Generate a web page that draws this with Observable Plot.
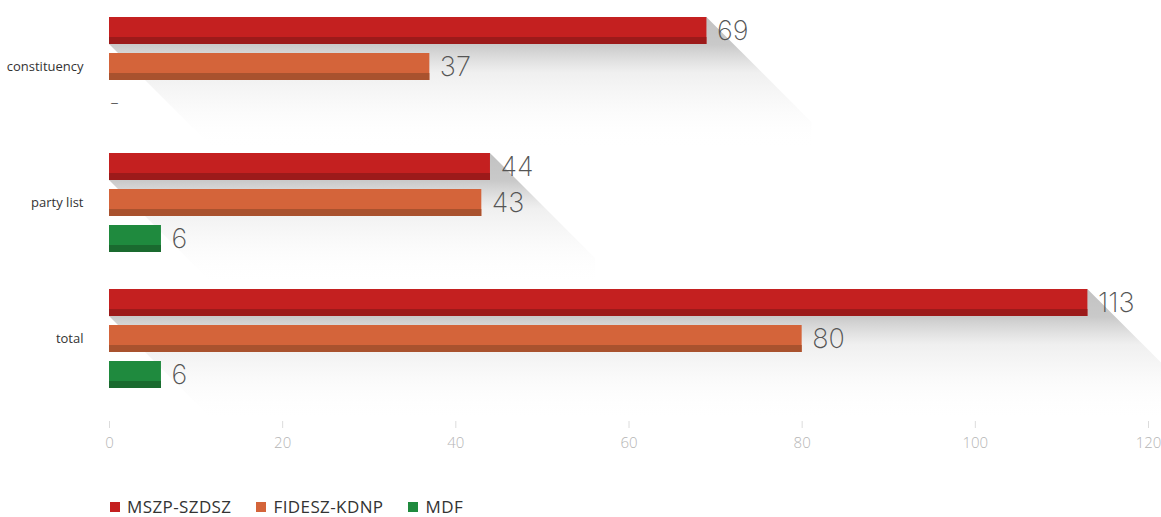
<!DOCTYPE html>
<html>
<head>
<meta charset="utf-8">
<script src="https://cdn.jsdelivr.net/npm/d3@7"></script>
<script src="https://cdn.jsdelivr.net/npm/@observablehq/plot@0.6"></script>
<style>
  html, body { margin: 0; padding: 0; background: #fff; }
  #chart { position: relative; width: 1161px; }
  .legend { display: flex; align-items: center; margin-left: 110px; margin-top: 28px; height: 18px; line-height: 18px;
    font-family: "Open Sans", "DejaVu Sans", sans-serif; font-size: 17px; letter-spacing: 0.4px; color: #333; }
  .legend .item { display: flex; align-items: center; margin-right: 25px; }
  .legend .sw { width: 10px; height: 10px; margin-right: 7px; }
</style>
</head>
<body>
<div id="chart"></div>
<script>
const groups = ["constituency", "party list", "total"];
const parties = ["MSZP-SZDSZ", "FIDESZ-KDNP", "MDF"];
const mszp = [69, 44, 113];
const fidesz = [37, 43, 80];
const mdf = [null, 6, 6];
const colors = ["#c42020", "#d4643a", "#1f8a3e"];
const darkColors = ["#9c1a1a", "#a9522e", "#1a6a2f"];
const xTicks = [0, 20, 40, 60, 80, 100, 120];

const series = [mszp, fidesz, mdf];
const data = groups.flatMap((g, i) => parties.map((p, j) => ({group: g, party: p, value: series[j][i]})));

const chart = Plot.plot({
  width: 1161,
  height: 470,
  marginTop: 16,
  marginLeft: 109,
  marginRight: 13,
  marginBottom: 47,
  x: {domain: [0, 120], label: null},
  y: {domain: parties, paddingInner: 0.26, paddingOuter: 0.452, align: 0, axis: null},
  fy: {domain: groups, paddingInner: 0.029, paddingOuter: 0, axis: null},
  color: {domain: parties, range: colors},
  marks: [
    Plot.axisX({ticks: xTicks, tickSize: 7, text: null, stroke: "#dcdcdc", line: true}),
    Plot.axisX({ticks: xTicks, tickSize: 0, tickPadding: 16, fill: "#b5b5b5", fontSize: 15,
      fontFamily: "Open Sans, sans-serif", fontWeight: 300, label: null}),
    Plot.barX(data.filter(d => d.value != null), {x: "value", y: "party", fy: "group", fill: "party"}),
    ...parties.map((p, j) => Plot.barX(data.filter(d => d.party === p && d.value != null),
      {x: "value", y: "party", fy: "group", fill: darkColors[j], insetTop: 20})),
    Plot.text(data.filter(d => d.value != null), {x: "value", y: "party", fy: "group", text: d => String(d.value),
      textAnchor: "start", dx: 10, fontSize: 27, fontWeight: 200, fontFamily: "Inter, Lato, sans-serif", fill: "#555"}),
    Plot.text(data.filter(d => d.value == null), {x: () => 0, y: "party", fy: "group", text: () => "–",
      textAnchor: "start", dx: 1, fontSize: 16, fontWeight: 300, fill: "#555"}),
    Plot.text(groups, {fy: d => d, y: () => parties[1], frameAnchor: "left", text: d => d, textAnchor: "end",
      dx: -26, fontSize: 13, fontFamily: "Open Sans, sans-serif", fill: "#333"})
  ]
});

// soft diagonal shadow cast by the top (longest) bar of each group, derived from the rendered bars
const ns = "http://www.w3.org/2000/svg";
const defs = document.createElementNS(ns, "defs");
defs.innerHTML = `<linearGradient id="shadowGrad" x1="0" y1="0" x2="0" y2="1">
  <stop offset="0" stop-color="#a8a8a8" stop-opacity="0.7"/>
  <stop offset="0.21" stop-color="#a8a8a8" stop-opacity="0.62"/>
  <stop offset="0.42" stop-color="#b8b8b8" stop-opacity="0.22"/>
  <stop offset="0.7" stop-color="#c8c8c8" stop-opacity="0.08"/>
  <stop offset="1" stop-color="#ffffff" stop-opacity="0"/>
</linearGradient>`;
chart.insertBefore(defs, chart.firstChild);
const depth = 105;
const bars = Array.from(chart.querySelectorAll("rect")).filter(r => (r.getAttribute("fill") || "").toLowerCase() === colors[0]);
bars.forEach(r => {
  const x0 = +r.getAttribute("x"), y0 = +r.getAttribute("y");
  const x1 = x0 + +r.getAttribute("width"), y1 = y0 + +r.getAttribute("height");
  const poly = document.createElementNS(ns, "polygon");
  poly.setAttribute("points", [[x0, y0], [x1, y0], [x1 + depth, y0 + depth], [x1 + depth, y1 + depth], [x0 + depth, y1 + depth], [x0, y1]].map(p => p.join(",")).join(" "));
  poly.setAttribute("fill", "url(#shadowGrad)");
  r.parentNode.insertBefore(poly, r.parentNode.firstChild);
});

const root = document.getElementById("chart");
root.appendChild(chart);
const legend = document.createElement("div");
legend.className = "legend";
parties.forEach((p, j) => {
  const it = document.createElement("div");
  it.className = "item";
  it.innerHTML = `<span class="sw" style="background:${colors[j]}"></span><span>${p}</span>`;
  legend.appendChild(it);
});
root.appendChild(legend);
</script>
</body>
</html>
